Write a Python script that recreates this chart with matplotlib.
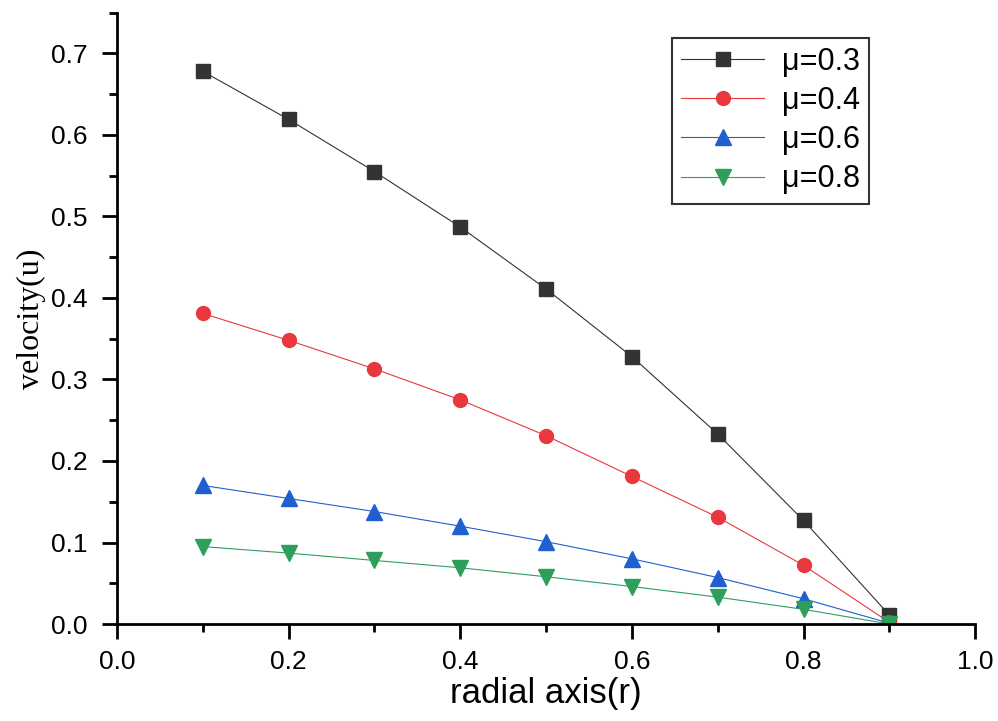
import numpy as np
import matplotlib
matplotlib.use("Agg")
import matplotlib.pyplot as plt
from matplotlib.ticker import MultipleLocator

r = [0.1, 0.2, 0.3, 0.4, 0.5, 0.6, 0.7, 0.8, 0.9]
u_03 = [0.678, 0.619, 0.555, 0.487, 0.411, 0.328, 0.233, 0.127, 0.011]
u_04 = [0.381, 0.348, 0.313, 0.275, 0.231, 0.181, 0.131, 0.072, 0.002]
u_06 = [0.170, 0.154, 0.138, 0.120, 0.101, 0.080, 0.057, 0.031, 0.001]
u_08 = [0.095, 0.087, 0.078, 0.069, 0.058, 0.046, 0.033, 0.018, 0.0]
labels = ["μ=0.3", "μ=0.4", "μ=0.6", "μ=0.8"]

plt.rcParams['font.family'] = ['Liberation Sans', 'DejaVu Sans']

fig = plt.figure(figsize=(9.98, 7.21), dpi=100)
ax = fig.add_axes([0.1172, 0.1345, 0.86, 0.848])

ax.plot(r, u_03, color="#333333", lw=0.8, marker="s", ms=10, label=labels[0])
ax.plot(r, u_04, color="#e8383d", lw=0.8, marker="o", ms=10, label=labels[1])
ax.plot(r, u_06, color="#1f5fd0", lw=0.8, marker="^", ms=11, label=labels[2])
ax.plot(r, u_08, color="#2e9e5b", lw=0.8, marker="v", ms=11, label=labels[3])

ax.set_xlim(0, 1.0)
ax.set_ylim(0, 0.75)
ax.xaxis.set_major_locator(MultipleLocator(0.2))
ax.xaxis.set_minor_locator(MultipleLocator(0.1))
ax.yaxis.set_major_locator(MultipleLocator(0.1))
ax.yaxis.set_minor_locator(MultipleLocator(0.05))
ax.spines['top'].set_visible(False)
ax.spines['right'].set_visible(False)
for s in ['left', 'bottom']:
    ax.spines[s].set_linewidth(2)
ax.tick_params(which='major', direction='out', length=11, width=2, labelsize=19)
ax.tick_params(axis='y', which='major', pad=10)
ax.tick_params(axis='x', which='major', pad=8)
ax.tick_params(which='minor', direction='out', length=6, width=2)
ax.xaxis.set_major_formatter(matplotlib.ticker.FormatStrFormatter('%.1f'))
ax.yaxis.set_major_formatter(matplotlib.ticker.FormatStrFormatter('%.1f'))

ax.set_xlabel("radial axis(r)", fontsize=25, labelpad=2)
ax.set_ylabel("velocity(u)", fontsize=23, family=['Liberation Serif'], labelpad=4)

leg = ax.legend(loc='upper left', bbox_to_anchor=(0.647, 0.959), borderaxespad=0,
                fontsize=22, fancybox=False, edgecolor='#333333', framealpha=1,
                handlelength=2.7, handletextpad=0.6, borderpad=0.3, labelspacing=0.3)
leg.get_frame().set_linewidth(1.5)

fig.savefig("out.png", dpi=100)
